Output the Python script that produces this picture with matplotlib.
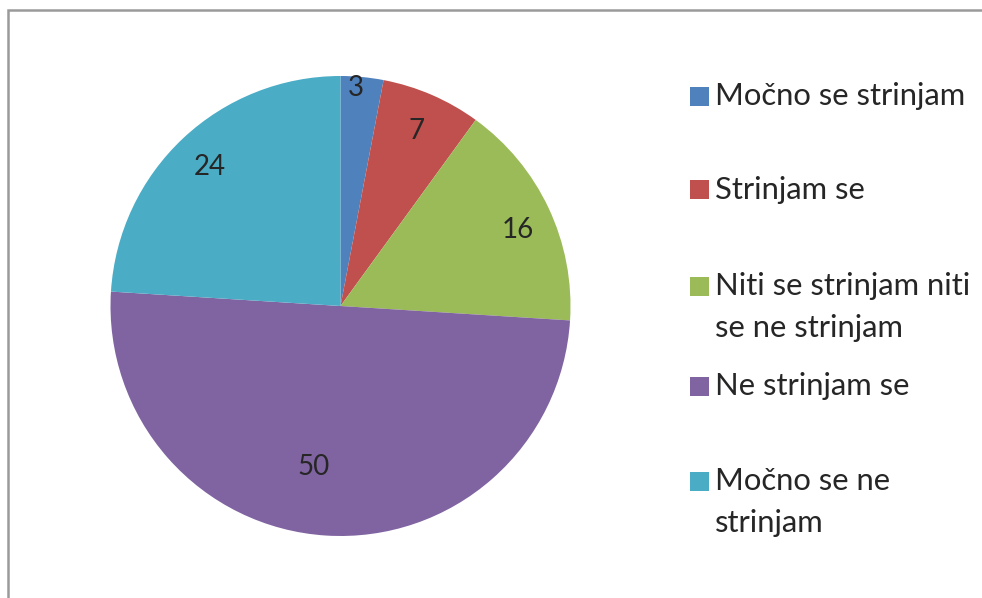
import numpy as np
import matplotlib
matplotlib.use("Agg")
import matplotlib.pyplot as plt
from matplotlib.patches import Rectangle

plt.rcParams['font.family'] = ['Lato', 'DejaVu Sans']

labels = ["Močno se strinjam", "Strinjam se", "Niti se strinjam niti\nse ne strinjam",
          "Ne strinjam se", "Močno se ne\nstrinjam"]
values = [3, 7, 16, 50, 24]
colors = ["#4F81BD", "#C0504D", "#9BBB59", "#8064A2", "#4BACC6"]

# radial position of each value label (fraction of radius) and small angle nudge
label_r = [0.95, 0.83, 0.84, 0.71, 0.83]
label_nudge = [1.5, 0, -2, -6, 0]
# legend row positions (figure px from top)
legend_y = [96, 190, 286, 386, 481]

W, H = 982, 598
fig = plt.figure(figsize=(W / 100, H / 100), dpi=100)

cx, cy, r = 340.5, 306, 230
ax = fig.add_axes([(cx - r) / W, (H - cy - r) / H, 2 * r / W, 2 * r / H])
wedges, _ = ax.pie(values, colors=colors, startangle=90, counterclock=False,
                   radius=1, wedgeprops=dict(linewidth=0))
ax.set_xlim(-1, 1)
ax.set_ylim(-1, 1)
ax.set_aspect('equal')
ax.axis('off')

for w, v, lr, dn in zip(wedges, values, label_r, label_nudge):
    ang = np.deg2rad((w.theta1 + w.theta2) / 2 + dn)
    ax.text(lr * np.cos(ang), lr * np.sin(ang), str(v), ha='center', va='center',
            fontsize=20, color='#262626')

# legend drawn by hand
for lab, col, y in zip(labels, colors, legend_y):
    fig.add_artist(Rectangle((690 / W, 1 - (y + 9.5) / H), 19 / W, 19 / H,
                             transform=fig.transFigure, color=col, lw=0))
    fig.text(715 / W, 1 - (y - 14) / H, lab, ha='left', va='top', fontsize=22.3,
             color='#262626', linespacing=1.6)

# chart area frame (runs off the right and bottom edges)
fig.add_artist(Rectangle((8 / W, -0.1), 1.2, 1 - 10 / H + 0.1, transform=fig.transFigure,
                         fill=False, edgecolor='#9a9a9a', lw=1.8))

fig.savefig("out.png", dpi=100, facecolor='white')
